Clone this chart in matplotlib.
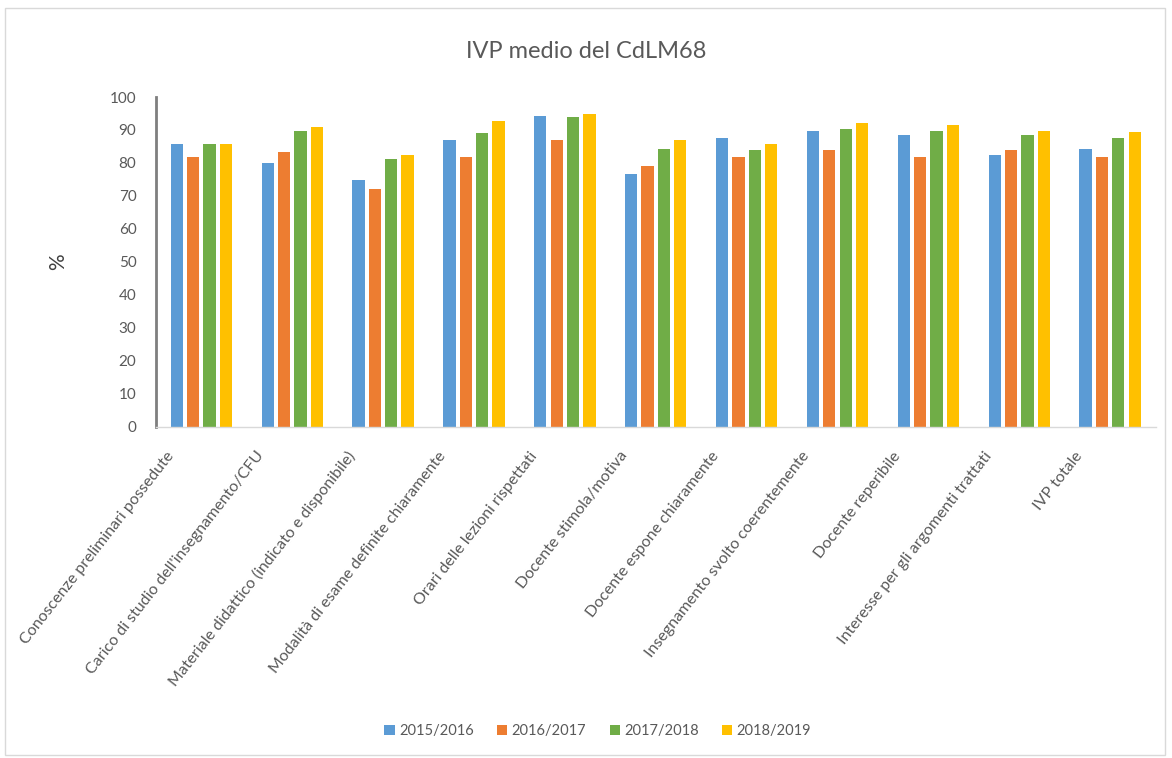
import matplotlib.pyplot as plt
import numpy as np
from matplotlib.patches import Rectangle
from matplotlib.transforms import ScaledTranslation

plt.rcParams['font.family'] = ['Lato', 'DejaVu Sans']

categories = [
    'Conoscenze preliminari possedute',
    "Carico di studio dell'insegnamento/CFU",
    'Materiale didattico (indicato e disponibile)',
    'Modalità di esame definite chiaramente',
    'Orari delle lezioni rispettati',
    'Docente stimola/motiva',
    'Docente espone chiaramente',
    'Insegnamento svolto coerentemente',
    'Docente reperibile',
    'Interesse per gli argomenti trattati',
    'IVP totale',
]
years = ['2015/2016', '2016/2017', '2017/2018', '2018/2019']
v_2015 = [85.8, 79.9, 74.8, 87.0, 94.2, 76.6, 87.7, 89.6, 88.4, 82.5, 84.3]
v_2016 = [81.8, 83.2, 72.1, 81.8, 87.0, 79.2, 81.8, 83.8, 81.8, 83.8, 81.8]
v_2017 = [85.8, 89.6, 81.2, 89.0, 94.0, 84.3, 83.8, 90.2, 89.6, 88.4, 87.6]
v_2018 = [85.8, 90.9, 82.5, 92.8, 94.8, 87.0, 85.7, 92.2, 91.6, 89.6, 89.5]
series = [v_2015, v_2016, v_2017, v_2018]
colors = ['#5B9BD5', '#ED7D31', '#70AD47', '#FFC000']

fig = plt.figure(figsize=(11.72, 7.58), dpi=100)
ax = fig.add_axes([0.133, 0.437, 0.853, 0.435])

x = np.arange(len(categories))
step = 0.18
width = 0.135
for i, (vals, col, lab) in enumerate(zip(series, colors, years)):
    ax.bar(x + (i - 1.5) * step, vals, width, color=col, label=lab)

ax.set_xlim(-0.5, len(categories) - 0.5)
ax.set_ylim(0, 100)
ax.set_yticks(range(0, 101, 10))
ax.tick_params(axis='y', length=0, labelsize=11, labelcolor='#595959', pad=14)
ax.tick_params(axis='x', length=0, labelsize=11.5, labelcolor='#595959', pad=16)
ax.set_xticks(x)
ax.set_xticklabels(categories, rotation=52, ha='right', va='top', rotation_mode='anchor')
# nudge the rotated labels to the left, like the Excel layout
shift = ScaledTranslation(-36 / 100, 0, fig.dpi_scale_trans)
for lbl in ax.get_xticklabels():
    lbl.set_transform(lbl.get_transform() + shift)

for s in ['top', 'right']:
    ax.spines[s].set_visible(False)
ax.spines['left'].set_color('#7f7f7f')
ax.spines['left'].set_linewidth(2)
ax.spines['bottom'].set_color('#d9d9d9')
ax.spines['bottom'].set_linewidth(1)

ax.set_ylabel('%', fontsize=15, color='#404040', labelpad=30)
fig.text(0.5, 0.932, 'IVP medio del CdLM68', ha='center', va='center',
         fontsize=17, color='#595959')

fig.legend(loc='center', bbox_to_anchor=(0.51, 0.035), ncol=4, frameon=False,
           fontsize=10.5, handlelength=0.7, handleheight=0.7, handletextpad=0.3,
           columnspacing=1.6, labelcolor='#595959')

fig.add_artist(Rectangle((0.004, 0.004), 0.99, 0.985, transform=fig.transFigure,
                         fill=False, edgecolor='#d9d9d9', linewidth=1))

fig.savefig('out.png', dpi=100)
